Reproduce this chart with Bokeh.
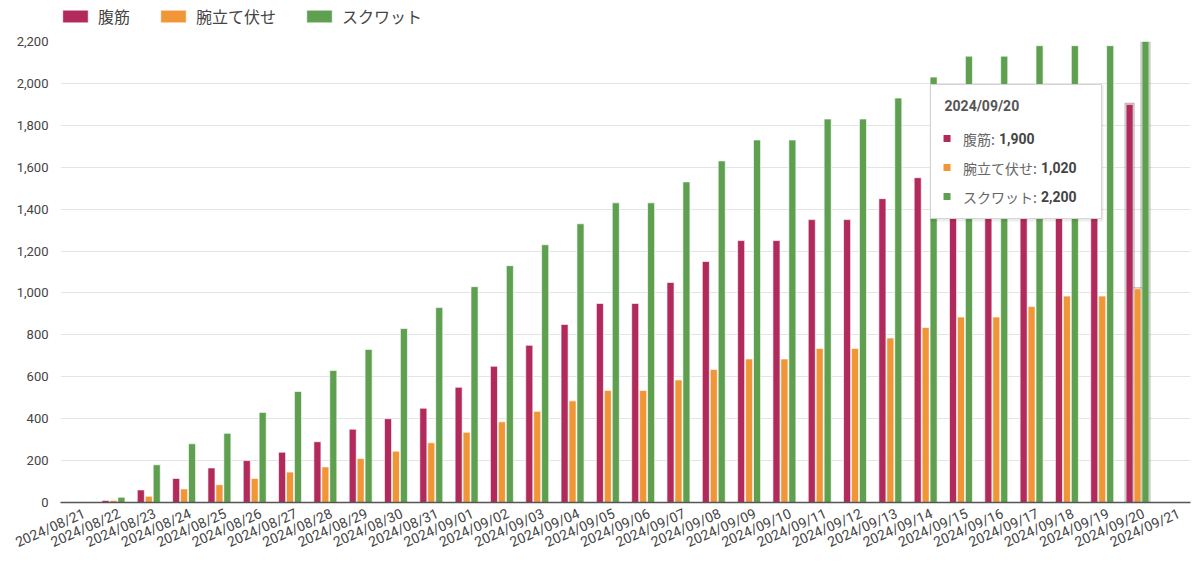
import math
import numpy as np
from bokeh.plotting import figure
from bokeh.layouts import column
from bokeh.models import (Range1d, Legend, LegendItem, NumeralTickFormatter,
                          FixedTicker, ColumnDataSource, LinearAxis)
from bokeh.transform import dodge
from bokeh.core.properties import value
from bokeh.embed import file_html
from bokeh.resources import INLINE

# ---------------- data ----------------
dates = ["2024/08/21", "2024/08/22", "2024/08/23", "2024/08/24", "2024/08/25",
         "2024/08/26", "2024/08/27", "2024/08/28", "2024/08/29", "2024/08/30",
         "2024/08/31", "2024/09/01", "2024/09/02", "2024/09/03", "2024/09/04",
         "2024/09/05", "2024/09/06", "2024/09/07", "2024/09/08", "2024/09/09",
         "2024/09/10", "2024/09/11", "2024/09/12", "2024/09/13", "2024/09/14",
         "2024/09/15", "2024/09/16", "2024/09/17", "2024/09/18", "2024/09/19",
         "2024/09/20", "2024/09/21"]
fukkin = [None, 10, 60, 115, 165, 200, 240, 290, 350, 400, 450, 550, 650, 750, 850,
          950, 950, 1050, 1150, 1250, 1250, 1350, 1350, 1450, 1550, 1650, 1650,
          1750, 1800, 1800, 1900, None]
udetate = [None, 10, 30, 65, 85, 115, 145, 170, 210, 245, 285, 335, 385, 435, 485,
           535, 535, 585, 635, 685, 685, 735, 735, 785, 835, 885, 885, 935, 985,
           985, 1020, None]
squat = [None, 25, 180, 280, 330, 430, 530, 630, 730, 830, 930, 1030, 1130, 1230,
         1330, 1430, 1430, 1530, 1630, 1730, 1730, 1830, 1830, 1930, 2030, 2130,
         2130, 2180, 2180, 2180, 2200, None]
series_names = ["腹筋", "腕立て伏せ", "スクワット"]
series_colors = ["#B22A5B", "#F19637", "#5E9F50"]
y_ticks = [0, 200, 400, 600, 800, 1000, 1200, 1400, 1600, 1800, 2000, 2200]
hover_date = "2024/09/20"

# ---------------- layout constants ----------------
W = 1200
LEG_H = 33
H = 527
B_LEFT, B_RIGHT, B_TOP, B_BOTTOM = 60, 10, 8, 58
FW, FH = W - B_LEFT - B_RIGHT, H - B_TOP - B_BOTTOM
Y_MAX = 2200
n = len(dates)
cw = FW / n              # px per category
yk = Y_MAX / FH          # data units per px
bw = 0.2
off = 0.225
label_shift = 6 / cw     # rotated labels sit slightly right of the group centre

xpos = [i + 0.5 for i in range(n)]
src = ColumnDataSource(dict(
    x=xpos,
    s0=np.array(fukkin, dtype=float),
    s1=np.array(udetate, dtype=float),
    s2=np.array(squat, dtype=float),
))

p = figure(x_range=Range1d(0, n), y_range=Range1d(0, Y_MAX),
           width=W, height=H, x_axis_type=None,
           min_border_left=B_LEFT, min_border_right=B_RIGHT, min_border_top=B_TOP,
           min_border_bottom=B_BOTTOM,
           output_backend="svg", toolbar_location=None,
           outline_line_color=None, background_fill_color="white",
           border_fill_color="white")

# y axis
p.yaxis.ticker = FixedTicker(ticks=y_ticks)
p.yaxis.formatter = NumeralTickFormatter(format="0,0")
p.yaxis.major_label_text_font = "Roboto"
p.yaxis.major_label_text_font_size = "13px"
p.yaxis.major_label_text_color = "#444444"
p.yaxis.major_tick_line_color = None
p.yaxis.minor_tick_line_color = None
p.yaxis.major_tick_out = 0
p.yaxis.axis_line_color = None
p.yaxis.major_label_standoff = 12

# x axis (category labels) on a slightly shifted range
p.extra_x_ranges = {"lab": Range1d(-label_shift, n - label_shift)}
xa = LinearAxis(x_range_name="lab", ticker=FixedTicker(ticks=xpos),
                major_label_overrides={xpos[i]: dates[i] for i in range(n)})
xa.major_label_orientation = math.radians(24)
xa.major_label_text_font = "Roboto"
xa.major_label_text_font_size = "14px"
xa.major_label_text_color = "#444444"
xa.major_tick_line_color = None
xa.minor_tick_line_color = None
xa.major_tick_out = 0
xa.axis_line_color = "#555555"
xa.axis_line_width = 1.3
xa.major_label_standoff = 10
p.add_layout(xa, "below")

p.ygrid.grid_line_color = "#e4e4e4"
p.ygrid.grid_line_width = 1

# hover highlight shadow behind the hovered group
hi = dates.index(hover_date)
hsrc = ColumnDataSource(dict(
    x=[xpos[hi]],
    s0=[fukkin[hi] + 1.5 * yk], s1=[udetate[hi] + 1.5 * yk], s2=[squat[hi] + 1.5 * yk],
))
offsets = [-off, 0.0, off]
for k in range(3):
    p.vbar(x=dodge("x", offsets[k]), top=f"s{k}",
           width=bw + 3.0 / cw, source=hsrc, fill_color="#000000", fill_alpha=0.28,
           line_color=None)

for k in range(3):
    p.vbar(x=dodge("x", offsets[k]), top=f"s{k}",
           width=bw, source=src, fill_color=series_colors[k],
           line_color="white", line_width=0.8, line_alpha=0.8)

# ---------------- tooltip overlay ----------------
xc = xpos[hi]
tip_right = xc - 36 / cw
tip_left = tip_right - 171 / cw
tip_top = Y_MAX - 43 * yk
tip_bottom = tip_top - 134 * yk

p.quad(left=[tip_left - 1 / cw], right=[tip_right + 2 / cw],
       top=[tip_top], bottom=[tip_bottom - 3 * yk],
       fill_color="#000000", fill_alpha=0.07, line_color=None)
p.quad(left=[tip_left], right=[tip_right], top=[tip_top], bottom=[tip_bottom],
       fill_color="white", line_color="#d4d4d4", line_width=1)

p.text(x=[tip_left + 14 / cw], y=[tip_top - 21 * yk], text=[hover_date],
       text_font=value("Roboto"), text_font_style="bold", text_font_size="14px",
       text_color="#555555", text_baseline="middle", text_align="left")

vals = [fukkin[hi], udetate[hi], squat[hi]]
row_dy = [54, 83, 112]
for k in range(3):
    yy = tip_top - row_dy[k] * yk
    p.scatter(x=[tip_left + 16.5 / cw], y=[yy], marker="square", size=7,
              fill_color=series_colors[k], line_color=None)
    lab = series_names[k] + ":"
    lx = tip_left + 32.5 / cw
    p.text(x=[lx], y=[yy], text=[lab], text_font=value("Noto Sans CJK JP"),
           text_font_size="14px", text_color="#666666", text_baseline="middle",
           text_align="left")
    vx = lx + (len(series_names[k]) * 14 + 8) / cw
    p.text(x=[vx], y=[yy], text=[f"{int(vals[k]):,}"], text_font=value("Roboto"),
           text_font_style="bold", text_font_size="14px", text_color="#444444",
           text_baseline="middle", text_align="left")

# ---------------- legend strip ----------------
lf = figure(width=W, height=LEG_H, x_range=Range1d(0, W), y_range=Range1d(0, LEG_H),
            min_border=0, x_axis_type=None, y_axis_type=None,
            output_backend="svg", toolbar_location=None,
            outline_line_color=None, background_fill_color="white",
            border_fill_color="white")
lf.xgrid.visible = False
lf.ygrid.visible = False
# one off-screen bar per series so the legend has something to draw its swatch from
legend_renderers = [lf.vbar(x=[-50], top=[0], width=1, fill_color=series_colors[k],
                            line_color="white", line_width=0.8)
                    for k in range(3)]
legend = Legend(items=[LegendItem(label=series_names[k], renderers=[legend_renderers[k]])
                       for k in range(3)],
                orientation="horizontal", location=(-1, 5),
                glyph_width=32, glyph_height=16, label_standoff=7, spacing=27,
                padding=0, margin=0,
                label_text_font="Noto Sans CJK JP", label_text_font_size="16px",
                label_text_color="#444444", border_line_color=None,
                background_fill_alpha=0)
lf.add_layout(legend, "center")

layout = column(lf, p, spacing=0)
open("out.html", "w").write(file_html(layout, INLINE))
